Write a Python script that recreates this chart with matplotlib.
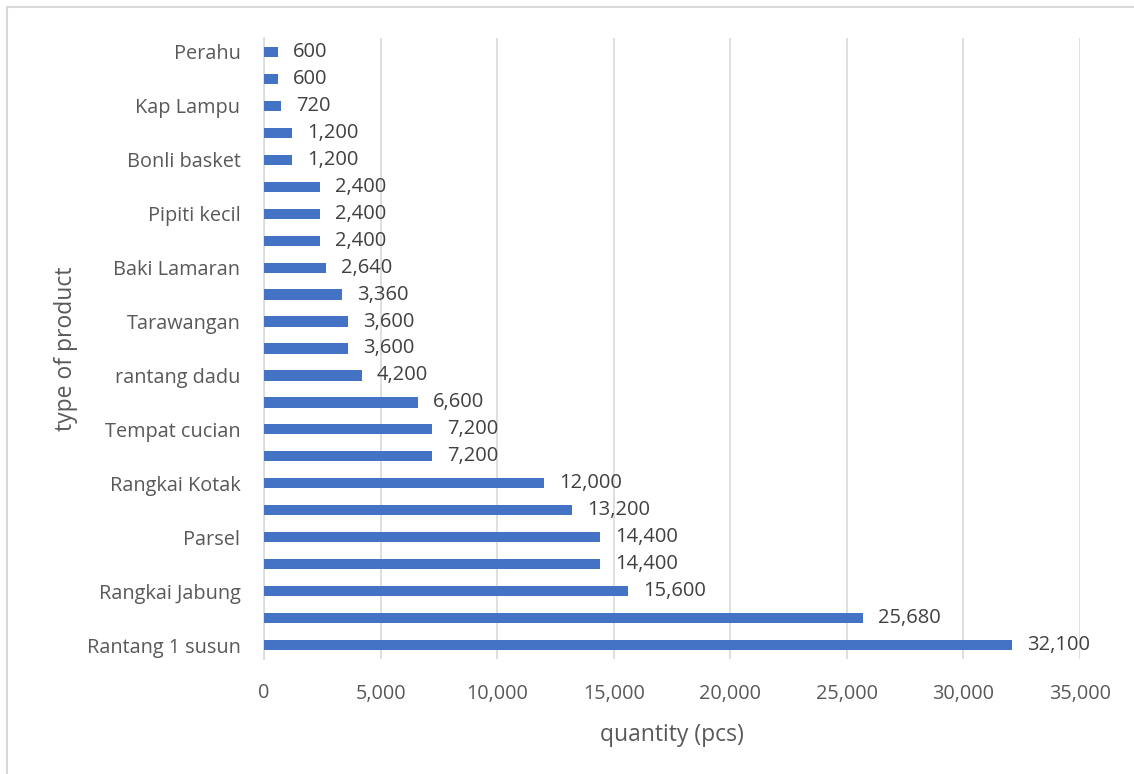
import matplotlib.pyplot as plt
from matplotlib.patches import Rectangle
from matplotlib.ticker import FuncFormatter

# bottom to top, only every other category name is printed in the reference
products = ['Rantang 1 susun', '', 'Rangkai Jabung', '', 'Parsel', '',
            'Rangkai Kotak', '', 'Tempat cucian', '', 'rantang dadu', '',
            'Tarawangan', '', 'Baki Lamaran', '', 'Pipiti kecil', '',
            'Bonli basket', '', 'Kap Lampu', '', 'Perahu']
quantity = [32100, 25680, 15600, 14400, 14400, 13200, 12000, 7200, 7200, 6600,
            4200, 3600, 3600, 3360, 2640, 2400, 2400, 2400, 1200, 1200, 720, 600, 600]
xticks = [0, 5000, 10000, 15000, 20000, 25000, 30000, 35000]

txt = '#595959'
plt.rcParams['font.family'] = ['Open Sans', 'DejaVu Sans']

fig = plt.figure(figsize=(11.34, 7.74), dpi=100)
fig.patches.append(Rectangle((7 / 1134, -0.1), 1.2, 1.1 - 7 / 774,
                             transform=fig.transFigure, fill=False,
                             edgecolor='#D9D9D9', linewidth=1.5))
ax = fig.add_axes([264 / 1134, 1 - 658.5 / 774, (1080 - 264) / 1134, 620 / 774])

ypos = list(range(len(quantity)))
ax.barh(ypos, quantity, height=0.38, color='#4472C4', zorder=3)
for y, v in zip(ypos, quantity):
    ax.text(v + 650, y, f'{v:,}', va='center', ha='left', fontsize=14.5, color='#404040')

ax.set_ylim(-0.5, len(quantity) - 0.5)
ax.set_xlim(0, 35000)
ax.set_xticks(xticks)
ax.xaxis.set_major_formatter(FuncFormatter(lambda v, p: f'{int(v):,}'))
ax.set_yticks(ypos)
ax.set_yticklabels(products)
ax.tick_params(axis='both', length=0, labelsize=14.3, labelcolor=txt)
ax.tick_params(axis='x', pad=18)
ax.tick_params(axis='y', pad=17)
ax.grid(axis='x', color='#D9D9D9', linewidth=1.2, zorder=0)
for s in ['top', 'right', 'bottom']:
    ax.spines[s].set_visible(False)
ax.spines['left'].set_color('#D9D9D9')
ax.spines['left'].set_linewidth(1.2)
ax.set_xlabel('quantity (pcs)', fontsize=16.5, color=txt, labelpad=14)
ax.set_ylabel('type of product', fontsize=16.5, color=txt, labelpad=6)

fig.savefig('out.png', dpi=100)
